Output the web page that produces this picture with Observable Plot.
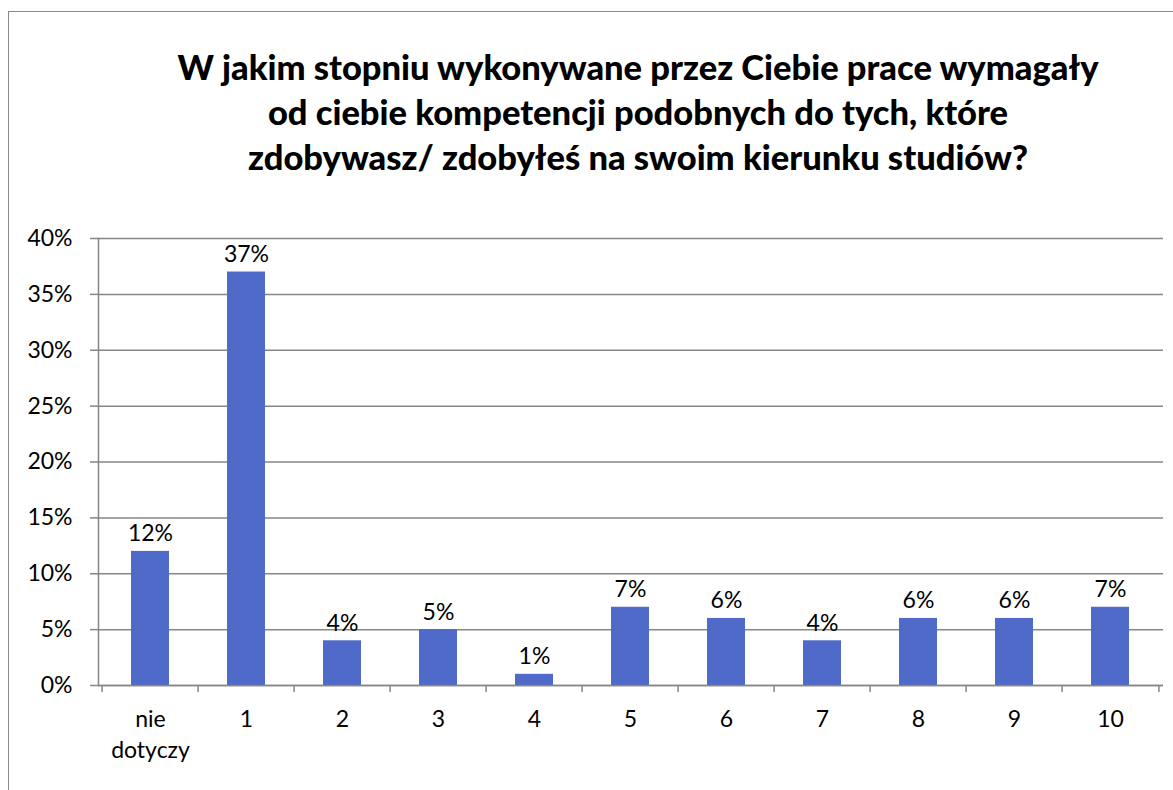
<!DOCTYPE html>
<html><head><meta charset="utf-8">
<script src="https://cdn.jsdelivr.net/npm/d3@7"></script>
<script src="https://cdn.jsdelivr.net/npm/@observablehq/plot@0.6"></script>
<style>
html,body{margin:0;padding:0;width:1173px;height:790px;overflow:hidden;background:#fff;font-family:Lato,"Open Sans",sans-serif;}
#frame{position:absolute;left:8px;top:11px;width:1300px;height:900px;border:1.5px solid #8a8a8a;box-sizing:border-box;}
#title{position:absolute;left:88px;width:1100px;top:44px;text-align:center;font-weight:900;font-size:34.5px;line-height:45px;color:#000;}
#chart{position:absolute;left:0;top:0;}
</style></head><body>
<div id="frame"></div>
<div id="chart"></div>
<div id="title">W jakim stopniu wykonywane przez Ciebie prace wymagały<br>od ciebie kompetencji podobnych do tych, które<br>zdobywasz/ zdobyłeś na swoim kierunku studiów?</div>
<script>
const categories = ["nie\ndotyczy","1","2","3","4","5","6","7","8","9","10"];
const values = [12,37,4,5,1,7,6,4,6,6,7];
const yTicks = [0,5,10,15,20,25,30,35,40];

const data = categories.map((c,i)=>({cat:c, v:values[i]}));
const W=1173, H=790, mL=98, mR=10, mT=238, mB=105;
const step=(W-mL-mR)/categories.length;
const grey="#868686";
const fs=23;
const plot = Plot.plot({
  width:W, height:H, marginLeft:mL, marginRight:mR, marginTop:mT, marginBottom:mB,
  style:{fontFamily:"Lato, 'Open Sans', sans-serif", fontSize:fs+"px", color:"#000", background:"transparent"},
  x:{domain:categories, paddingInner:0.6, paddingOuter:0.3, label:null},
  y:{domain:[0,40], label:null},
  marks:[
    Plot.gridY(yTicks,{stroke:grey, strokeOpacity:1, strokeWidth:1.5}),
    Plot.axisY(yTicks,{tickSize:8, tickPadding:18, stroke:grey, strokeWidth:1.5, tickFormat:d=>d+"%", fill:"#000", fontSize:fs, label:null}),
    Plot.frame({anchor:"left", stroke:grey, strokeWidth:1.5}),
    Plot.barY(data,{x:"cat", y:"v", fill:"#4F6AC9"}),
    Plot.ruleY([0],{stroke:grey, strokeWidth:1.5}),
    Plot.axisX({tickSize:7, stroke:grey, strokeWidth:1.5, text:null, dx:-step/2, label:null}),
    Plot.axisX([categories[categories.length-1]],{tickSize:7, stroke:grey, strokeWidth:1.5, text:null, dx:step/2, label:null}),
    Plot.axisX({tickSize:0, tickPadding:20, lineHeight:1.33, fill:"#000", fontSize:fs, label:null}),
    Plot.text(data,{x:"cat", y:"v", text:d=>d.v+"%", lineAnchor:"bottom", dy:-10, fill:"#000", fontSize:fs})
  ]
});
document.getElementById("chart").appendChild(plot);
</script>
</body></html>
